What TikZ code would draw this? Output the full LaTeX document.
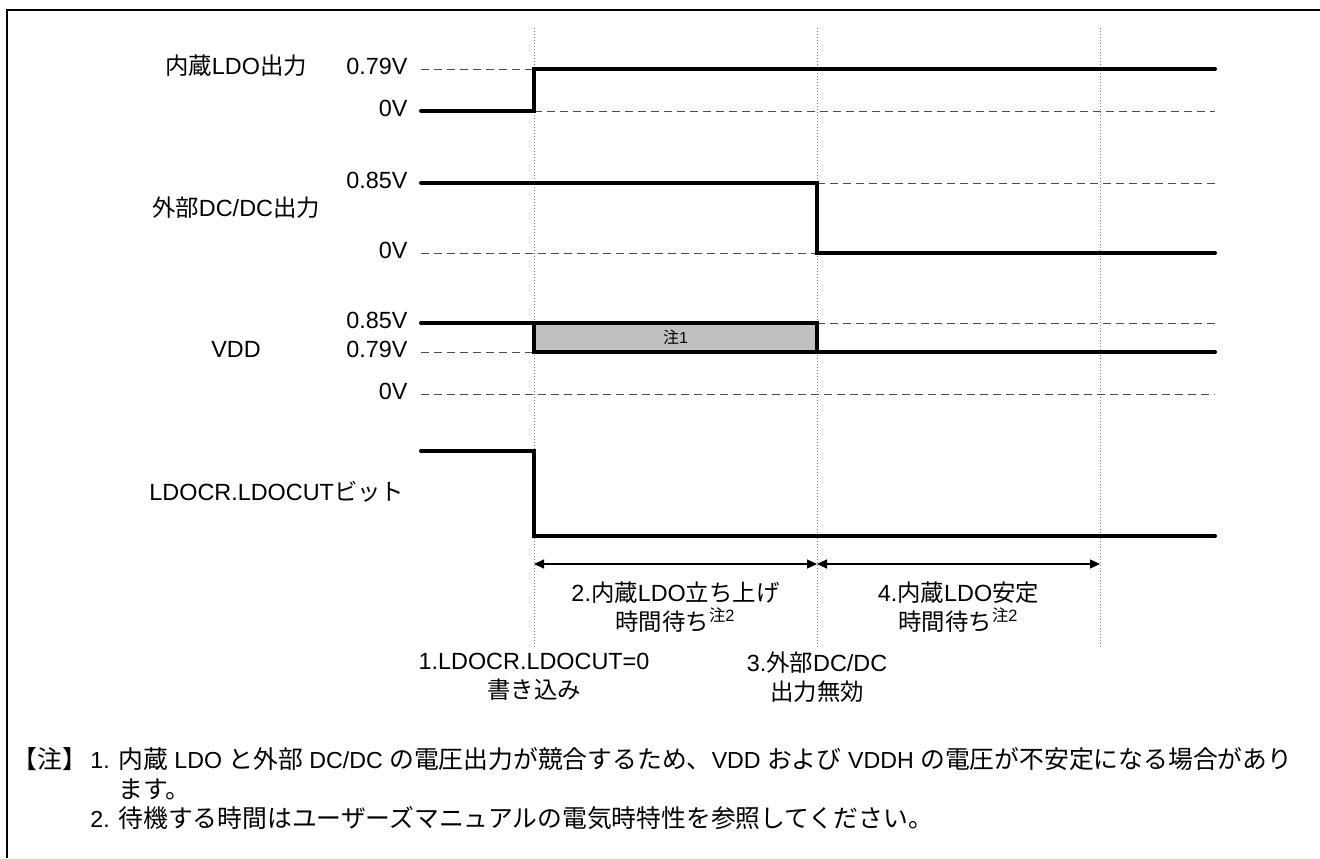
\documentclass[tikz,border=0pt]{standalone}
\usepackage{fontspec}
\setmainfont{Liberation Sans}
\newfontfamily\jp{Noto Sans CJK JP}
\usetikzlibrary{arrows.meta}
\definecolor{boxgray}{RGB}{192,192,192}
% notes: kana/kanji a little larger than the latin text
\newcommand\nj[1]{{\fontsize{12.4}{14}\selectfont\jp #1}}
\tikzset{
  txt/.style={font=\fontsize{11.7}{14.5}\selectfont, inner sep=0pt},
  notetxt/.style={font=\fontsize{11.6}{14}\selectfont, inner sep=0pt, anchor=mid west},
  sig/.style={line width=2pt, line cap=round, line join=miter},
  lvl/.style={line width=0.5pt, black!70, dash pattern=on 4pt off 2.5pt},
  tline/.style={line width=0.5pt, black!55, densely dotted},
  span/.style={line width=0.6pt, arrows={Triangle[length=5pt,width=4.5pt]-Triangle[length=5pt,width=4.5pt]}},
}
\begin{document}
\begin{tikzpicture}[x=0.5pt,y=-0.5pt]
    \useasboundingbox (0,0) rectangle (1320,858);
    % time marks
    \def\xs{421} \def\xa{534} \def\xb{817} \def\xc{1100} \def\xe{1215}

    % frame
    \draw[line width=1pt] (7,858) -- (7,10) -- (1322,10);

    % timing marks
    \foreach \x in {\xa,\xb,\xc}
        \draw[tline] (\x,28) -- (\x,648);

    % signal names
    \node[txt, anchor=mid] (nLDO) at (236,69) {{\jp 内蔵}LDO{\jp 出力}};
    \node[txt, anchor=mid] (nDC) at (236,211) {{\jp 外部}DC/DC{\jp 出力}};
    \node[txt, anchor=mid] (nVDD) at (236,352) {VDD};
    \node[txt, anchor=mid west] (nCUT) at (149,495) {LDOCR.LDOCUT{\jp ビット}};

    % levels
    \node[txt, anchor=mid east] (lA1) at (408,69) {0.79V};
    \node[txt, anchor=mid east] (lA0) at (408,111) {0V};
    \node[txt, anchor=mid east] (lB1) at (408,183) {0.85V};
    \node[txt, anchor=mid east] (lB0) at (408,253) {0V};
    \node[txt, anchor=mid east] (lC2) at (408,323) {0.85V};
    \node[txt, anchor=mid east] (lC1) at (408,352) {0.79V};
    \node[txt, anchor=mid east] (lC0) at (408,394) {0V};

    % dashed reference levels
    \draw[lvl] (\xs,69) -- (\xa,69);
    \draw[lvl] (\xa,111) -- (\xe,111);
    \draw[lvl] (\xb,183) -- (\xe,183);
    \draw[lvl] (\xs,253) -- (\xb,253);
    \draw[lvl] (\xb,323) -- (\xe,323);
    \draw[lvl] (\xs,352) -- (\xa,352);
    \draw[lvl] (\xs,394) -- (\xe,394);

    % waveforms
    \draw[sig] (\xs,111) -- (\xa,111) -- (\xa,69) -- (\xe,69);
    \draw[sig] (\xs,183) -- (\xb,183) -- (\xb,253) -- (\xe,253);
    \draw[sig, fill=boxgray] (\xa,323) rectangle (\xb,352);
    \draw[sig] (\xs,323) -- (\xa,323);
    \draw[sig] (\xb,352) -- (\xe,352);
    \draw[sig] (\xs,451) -- (\xa,451) -- (\xa,536) -- (\xe,536);
    \node[font=\fontsize{8}{9}\selectfont, inner sep=0pt] (note1) at ({(\xa+\xb)/2},337.5) {{\jp 注}1};

    % wait intervals
    \coordinate (s1) at (\xa,564);
    \coordinate (s2) at (\xb,564);
    \coordinate (s3) at (\xc,564);
    \draw[span] (s1) -- (s2);
    \draw[span] (s2) -- (s3);

    \node[txt, align=center] (wRise) at ({(\xa+\xb)/2},607) {2.{\jp 内蔵}LDO{\jp 立ち上げ}\\{\jp 時間待ち}\textsuperscript{{\jp 注}2}};
    \node[txt, align=center] (wStab) at ({(\xb+\xc)/2},607) {4.{\jp 内蔵}LDO{\jp 安定}\\{\jp 時間待ち}\textsuperscript{{\jp 注}2}};
    \node[txt, align=center] (eCut) at (\xa,677) {1.LDOCR.LDOCUT=0\\{\jp 書き込み}};
    \node[txt, align=center] (eOff) at (\xb,677) {3.{\jp 外部}DC/DC\\{\jp 出力無効}};

    % notes
    \node[notetxt] (nHead) at (12,763) {\nj{【注】}};
    \node[notetxt] (n1) at (90,763) {1.};
    \node[notetxt] (n1a) at (118,763) {\nj{内蔵} LDO \nj{と外部} DC/DC \nj{の電圧出力が競合するため、}VDD \nj{および} VDDH \nj{の電圧が不安定になる場合があり}};
    \node[notetxt] (n1b) at (118,793) {\nj{ます。}};
    \node[notetxt] (n2) at (90,822) {2.};
    \node[notetxt] (n2a) at (118,822) {\nj{待機する時間はユーザーズマニュアルの電気時特性を参照してください。}};
\end{tikzpicture}
\end{document}
